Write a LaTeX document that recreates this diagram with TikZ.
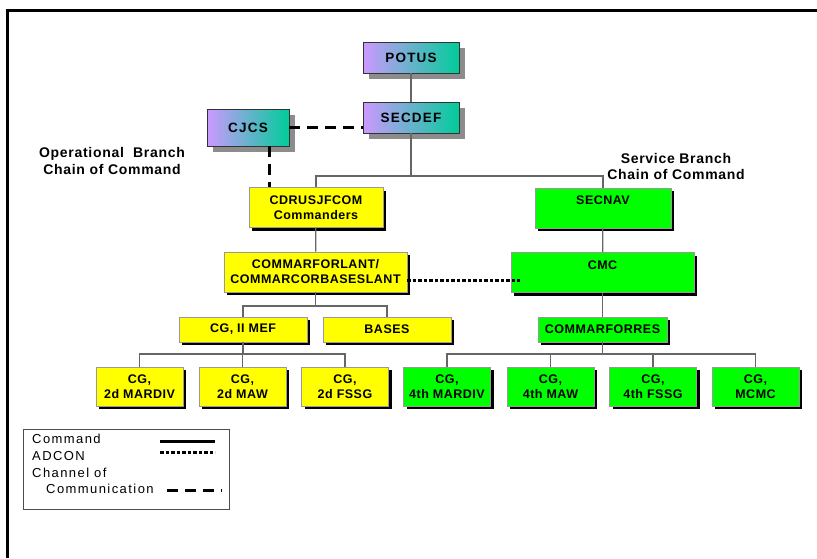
\documentclass[tikz,border=0pt]{standalone}
\usepackage{fontspec}
\setmainfont{Liberation Sans}
\newfontfamily\topfont[LetterSpace=9]{Liberation Sans}
\newfontfamily\boxfont[LetterSpace=4]{Liberation Sans}
\newfontfamily\headfont[LetterSpace=5]{Liberation Sans}
\newfontfamily\keyfont[LetterSpace=11]{Liberation Sans}
\usepackage{tikz}
\usetikzlibrary{positioning, shadows}

\definecolor{potusviolet}{HTML}{CC99FF}
\definecolor{potusteal}{HTML}{00CC99}
\definecolor{opsyellow}{HTML}{FFFF00}
\definecolor{svcgreen}{HTML}{00FF00}

\tikzset{
  topbox/.style={draw=black!80, line width=0.8pt, left color=potusviolet, right color=potusteal,
    minimum width=96pt, minimum height=31pt, font=\topfont\bfseries\fontsize{13.5}{16}\selectfont,
    drop shadow={shadow xshift=6pt, shadow yshift=-6pt, fill=black!45, opacity=1}},
  opsbox/.style={draw=black!40, line width=0.8pt, fill=opsyellow, minimum height=40pt,
    font=\boxfont\bfseries\fontsize{12.5}{15}\selectfont,
    drop shadow={shadow xshift=3pt, shadow yshift=-3pt, fill=black, opacity=1}},
  svcbox/.style={opsbox, fill=svcgreen},
  unitbox/.style={minimum width=87pt, minimum height=39pt},
  cmdline/.style={black!60, line width=1.2pt},
  adconline/.style={black, line width=3pt, dash pattern=on 3.5pt off 2pt},
  chanline/.style={black, line width=3pt, dash pattern=on 11pt off 7pt},
  headlabel/.style={font=\headfont\bfseries\fontsize{14}{16.5}\selectfont}
}

\begin{document}
\begin{tikzpicture}[x=1pt, y=-1pt, every node/.style={align=center}]
    \useasboundingbox (0,0) rectangle (817,558);
    \draw[line width=3pt] (7,558) -- (7,10) -- (817,10);

    % top of the chain
    \node (potus) [topbox] at (411,57.5) {POTUS};
    \node (secdef) [topbox] at (411,117.5) {SECDEF};
    \node (cjcs) [topbox, minimum width=82pt, minimum height=37pt] at (248,127.5) {CJCS};

    % operational branch
    \node (jfcom) [opsbox, minimum width=134pt] at (316,207.5) {CDRUSJFCOM\\Commanders};
    \node (forlant) [opsbox, minimum width=183pt] at (315.5,272) {COMMARFORLANT/\\COMMARCORBASESLANT};
    \node (iimef) [opsbox, minimum width=128pt, minimum height=25pt] at (243,329.5) {CG, II MEF};
    \node (bases) [opsbox, minimum width=128pt, minimum height=25pt] at (387,329.5) {BASES};
    \node (mardivtwo) [opsbox, unitbox] at (139.5,386.5) {CG,\\2d MARDIV};
    \node (mawtwo) [opsbox, unitbox] at (242.5,386.5) {CG,\\2d MAW};
    \node (fssgtwo) [opsbox, unitbox] at (345,386.5) {CG,\\2d FSSG};

    % service branch
    \node (secnav) [svcbox, minimum width=136pt] at (603,208) {SECNAV\\\mbox{}};
    \node (cmc) [svcbox, minimum width=183pt] at (602.5,272.5) {CMC\\\mbox{}};
    \node (forres) [svcbox, minimum width=129pt, minimum height=25pt] at (602.5,329.5) {COMMARFORRES};
    \node (mardivfour) [svcbox, unitbox] at (447,386.5) {CG,\\4th MARDIV};
    \node (mawfour) [svcbox, unitbox] at (550.5,386.5) {CG,\\4th MAW};
    \node (fssgfour) [svcbox, unitbox] at (653,386.5) {CG,\\4th FSSG};
    \node (mcmc) [svcbox, unitbox] at (755.5,386.5) {CG,\\MCMC};

    % branch titles
    \node (opslabel) [headlabel] at (112,161) {Operational\ \ Branch\\Chain of Command};
    \node (svclabel) [headlabel] at (676,166.5) {Service Branch\\Chain of Command};

    % command lines
    \coordinate (splitbus) at (secdef.south |- 0,176);
    \coordinate (lantbus) at (forlant.south |- 0,306);
    \coordinate (mefbus) at (iimef.south |- 0,354);
    \coordinate (resbus) at (forres.south |- 0,354);
    \draw[cmdline] (potus) -- (secdef);
    \draw[cmdline] (secdef) -- (splitbus);
    \draw[cmdline] (jfcom.north) |- (splitbus) -| (secnav.north);
    \draw[cmdline] (jfcom) -- (forlant);
    \draw[cmdline] (forlant) -- (lantbus);
    \draw[cmdline] (iimef.north) |- (lantbus) -| (bases.north);
    \draw[cmdline] (iimef) -- (mefbus);
    \draw[cmdline] (mardivtwo.north) |- (mefbus) -| (fssgtwo.north);
    \draw[cmdline] (mawtwo.north) -- (mawtwo.north |- mefbus);
    \draw[cmdline] (secnav) -- (cmc);
    \draw[cmdline] (cmc) -- (forres);
    \draw[cmdline] (forres) -- (resbus);
    \draw[cmdline] (mardivfour.north) |- (resbus) -| (mcmc.north);
    \draw[cmdline] (mawfour.north) -- (mawfour.north |- resbus);
    \draw[cmdline] (fssgfour.north) -- (fssgfour.north |- resbus);

    % channel of communication
    \coordinate (cjcsdrop) at ([xshift=21pt]cjcs.south);
    \draw[chanline] (cjcs.east) -- (cjcs.east -| secdef.west);
    \draw[chanline] (cjcsdrop) -- (cjcsdrop |- jfcom.north);

    % ADCON
    \coordinate (adconstart) at ([yshift=-8pt]forlant.east);
    \coordinate (adconend) at ([xshift=9pt]cmc.west);
    \draw[adconline] (adconstart) -- (adconstart -| adconend);

    % legend
    \node (key) [draw=black!70, line width=0.8pt, minimum width=206pt, minimum height=80pt] at (126,469) {};
    \node (keytext) [anchor=north west, align=left, inner sep=0pt, font=\keyfont\fontsize{13}{16.7}\selectfont]
        at (32,434) {Command\\ADCON\\Channel of\\\hspace*{14pt}Communication};
    \draw[black, line width=3pt] (160,441) -- (215,441);
    \draw[adconline] (160,452) -- (215,452);
    \draw[chanline] (167,490) -- (222,490);
\end{tikzpicture}
\end{document}
